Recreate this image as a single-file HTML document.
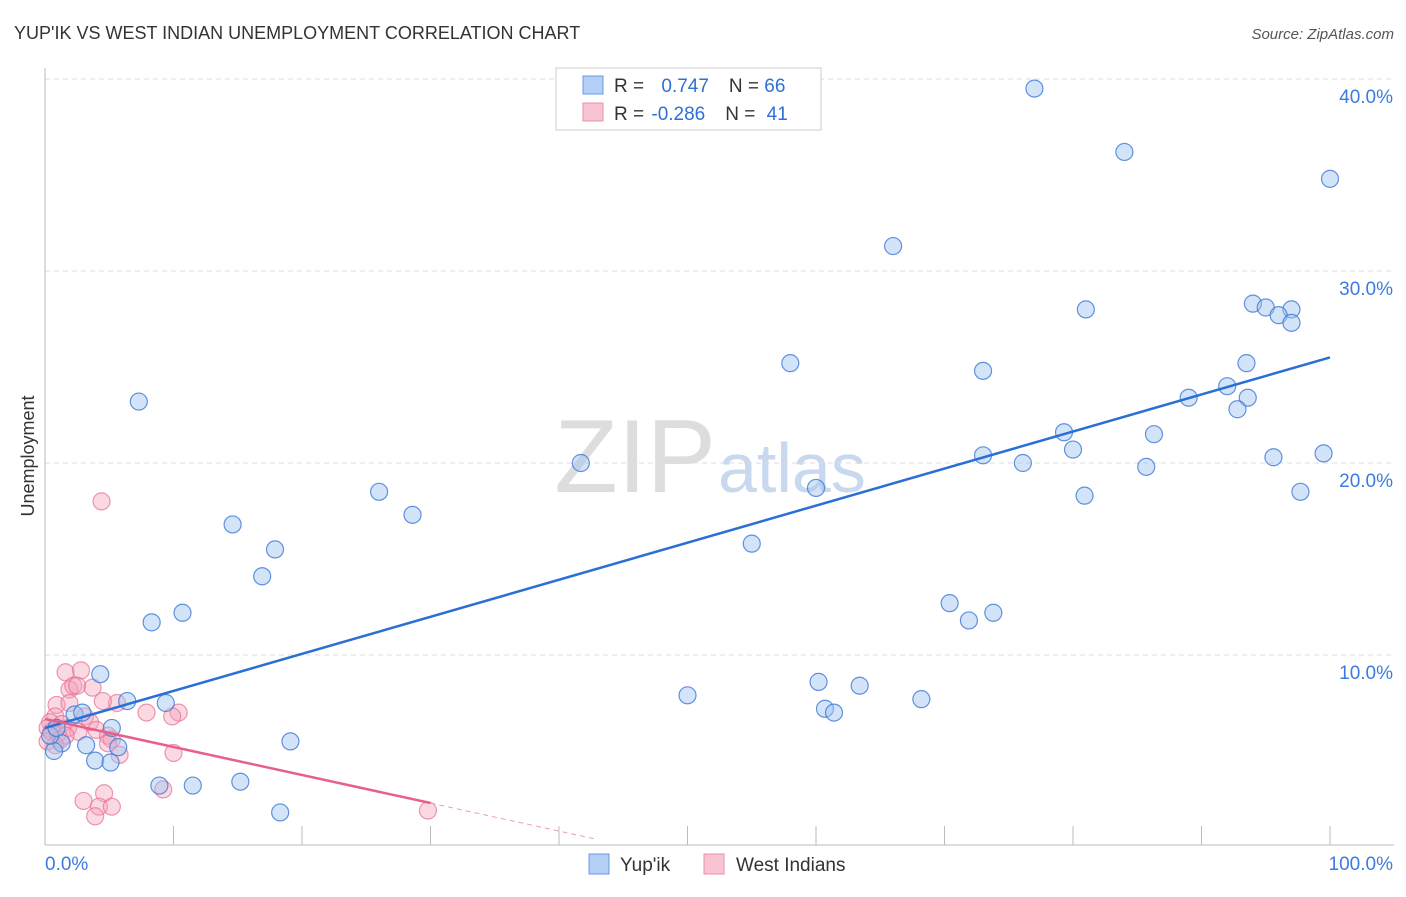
<!DOCTYPE html>
<html><head><meta charset="utf-8">
<style>
body{margin:0;background:#fff;font-family:"Liberation Sans",sans-serif;}
svg text{font-family:"Liberation Sans",sans-serif;}
</style></head>
<body>
<svg id="chart" width="1406" height="892">
<text x="14" y="39" font-size="18" fill="#333">YUP'IK VS WEST INDIAN UNEMPLOYMENT CORRELATION CHART</text>
<text x="1394" y="39" font-size="15" fill="#555" font-style="italic" text-anchor="end">Source: ZipAtlas.com</text>
<text x="34" y="456" font-size="18" fill="#333" transform="rotate(-90 34 456)" text-anchor="middle">Unemployment</text>
<text x="716" y="492" font-size="104" fill="#ddd" text-anchor="end" font-family="Liberation Serif">ZIP</text>
<text x="718" y="492" font-size="70" fill="#c8d8ee">atlas</text>
<g id="grid"></g><g id="marks"></g>
<g>
<rect x="556" y="68" width="265" height="62" fill="#fff" stroke="#ccc"/>
<rect x="583" y="76" width="20" height="18" fill="#b3cff5" stroke="#6a9be0"/>
<rect x="583" y="103" width="20" height="18" fill="#f9c4d2" stroke="#e890a8"/>
<text x="614" y="92" font-size="19" fill="#333">R = <tspan fill="#2f6fd6" dx="12">0.747</tspan><tspan fill="#333" dx="20">N = </tspan><tspan fill="#2f6fd6">66</tspan></text>
<text x="614" y="120" font-size="19" fill="#333">R = <tspan fill="#2f6fd6" dx="2">-0.286</tspan><tspan fill="#333" dx="20">N = </tspan><tspan fill="#2f6fd6" dx="6">41</tspan></text>
</g>
<g>
<rect x="589" y="854" width="20" height="20" fill="#b3cff5" stroke="#6a9be0"/>
<text x="620" y="871" font-size="19" fill="#333">Yup'ik</text>
<rect x="704" y="854" width="20" height="20" fill="#f9c4d2" stroke="#e890a8"/>
<text x="736" y="871" font-size="19" fill="#333">West Indians</text>
</g>
</svg>
<script>
const yTicks=[10,20,30,40];
const blueX=[77,84,100,66,81,94,95,97,96,97,58,73,93.5,89,92,93.6,92.8,7.3,79.3,86.3,80,41.7,73,76.1,85.7,95.6,99.5,26,60,80.9,97.7,28.6,14.6,55,17.9,16.9,70.4,73.8,71.9,10.7,8.3,4.3,60.2,63.4,50,9.4,6.4,68.2,60.7,61.4,2.3,2.9,5.2,19.1,3.2,1.3,0.7,5.7,3.9,5.1,8.9,11.5,15.2,18.3,0.4,0.9];
const blueY=[39.5,36.2,34.8,31.3,28.0,28.3,28.1,28.0,27.7,27.3,25.2,24.8,25.2,23.4,24.0,23.4,22.8,23.2,21.6,21.5,20.7,20.0,20.4,20.0,19.8,20.3,20.5,18.5,18.7,18.3,18.5,17.3,16.8,15.8,15.5,14.1,12.7,12.2,11.8,12.2,11.7,9.0,8.6,8.4,7.9,7.5,7.6,7.7,7.2,7.0,6.9,7.0,6.2,5.5,5.3,5.4,5.0,5.2,4.5,4.4,3.2,3.2,3.4,1.8,5.8,6.2];
const pinkX=[4.4,1.6,2.8,1.9,2.2,2.5,3.7,0.9,1.9,5.6,4.5,7.9,10.4,9.9,0.8,3.1,3.5,0.4,1.3,0.2,0.5,1.0,1.8,2.6,4.0,4.9,0.2,1.2,1.6,5.2,5.8,10.0,4.9,3.0,4.6,4.2,5.2,3.9,9.2,29.8,0.8];
const pinkY=[18.0,9.1,9.2,8.2,8.4,8.4,8.3,7.4,7.5,7.5,7.6,7.0,7.0,6.8,6.8,6.8,6.5,6.5,6.4,6.2,6.0,5.9,6.2,6.0,6.1,5.8,5.5,5.6,5.8,5.6,4.8,4.9,5.4,2.4,2.8,2.1,2.1,1.6,3.0,1.9,5.3];
const blueFit=[6.2,25.5], pinkFit=[6.67,-7.93];
const X=v=>45+v*12.85, Y=v=>847-v*19.2;
const ns='http://www.w3.org/2000/svg';
function mk(t,a,p){const e=document.createElementNS(ns,t);for(const k in a)e.setAttribute(k,a[k]);p.appendChild(e);return e;}
const g=document.getElementById('grid'), m=document.getElementById('marks');
for(const t of yTicks){
 const l=mk('line',{x1:45,x2:1394,y1:Y(t),y2:Y(t),stroke:'#ddd','stroke-dasharray':'5,4'},g);
 
 
 const tx=mk('text',{x:1393,y:Y(t)+24,'font-size':19,fill:'#3d7be0','text-anchor':'end'},g);tx.textContent=t.toFixed(1)+'%';
 
 
}
mk('line',{x1:45,x2:45,y1:68,y2:845,stroke:'#bbb'},g);
mk('line',{x1:45,x2:1394,y1:845,y2:845,stroke:'#bbb'},g);
for(let i=1;i<=10;i++){mk('line',{x1:X(i*10),x2:X(i*10),y1:826,y2:845,stroke:'#bbb'},g);}
const x0=mk('text',{x:45,y:870,'font-size':19,fill:'#3d7be0'},g);x0.textContent='0.0%';


const x1=mk('text',{x:1393,y:870,'font-size':19,fill:'#3d7be0','text-anchor':'end'},g);x1.textContent='100.0%';


pinkX.forEach((v,i)=>{const c=mk('circle',{cx:X(v),cy:Y(pinkY[i]),r:8.5,fill:'rgba(245,160,185,0.4)',stroke:'rgba(230,110,145,0.7)','stroke-width':1.2},m);
 
 });
blueX.forEach((v,i)=>{const c=mk('circle',{cx:X(v),cy:Y(blueY[i]),r:8.5,fill:'rgba(160,195,240,0.45)',stroke:'rgba(60,120,215,0.8)','stroke-width':1.2},m);
 
 });
const bl=mk('line',{x1:X(0),y1:Y(blueFit[0]),x2:X(100),y2:Y(blueFit[1]),stroke:'#2a6fd6','stroke-width':2.5},m);


const s=(pinkFit[1]-pinkFit[0])/100;
const pl=mk('line',{x1:X(0),y1:Y(pinkFit[0]),x2:X(30),y2:Y(pinkFit[0]+s*30),stroke:'#e8608a','stroke-width':2.5},m);


const pd=mk('line',{x1:X(30),y1:Y(pinkFit[0]+s*30),x2:X(43),y2:Y(pinkFit[0]+s*43),stroke:'#e8a0b5','stroke-width':1,'stroke-dasharray':'5,4'},m);


</script>
</body></html>
